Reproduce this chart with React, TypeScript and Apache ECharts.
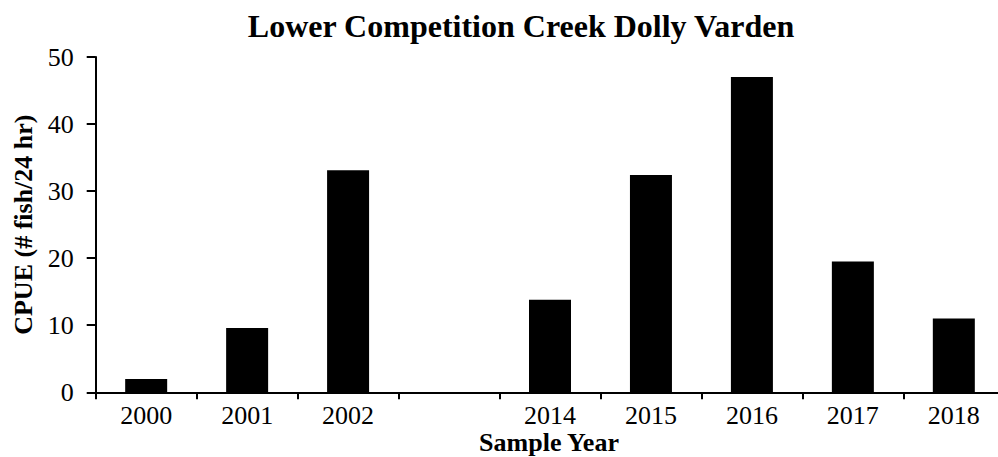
import React, { useEffect, useRef } from "react";
import * as echarts from "echarts";

const categories = ["2000", "2001", "2002", "", "2014", "2015", "2016", "2017", "2018"];
const cpue = [2.0, 9.6, 33.1, null, 13.8, 32.4, 47.0, 19.5, 11.0];
const yTicks = { min: 0, max: 50, interval: 10 };

const FONT = "'Liberation Serif', 'Times New Roman', serif";

export default function App() {
  const ref = useRef<HTMLDivElement>(null);
  useEffect(() => {
    if (!ref.current) return;
    const chart = echarts.init(ref.current, null, { renderer: "svg" });
    chart.setOption({
      animation: false,
      backgroundColor: "#fff",
      title: {
        text: "Lower Competition Creek Dolly Varden",
        left: 516,
        top: 5,
        textAlign: "center",
        textStyle: { fontFamily: FONT, fontSize: 32, fontWeight: "bold", color: "#000" },
      },
      grid: {
        left: 95.7,
        right: -6.3,
        top: 57,
        bottom: 64.7,
        containLabel: false,
        outerBoundsMode: "none",
      },
      graphic: [
        {
          type: "text",
          x: 549,
          y: 442,
          style: {
            text: "Sample Year",
            fontFamily: FONT,
            fontSize: 26,
            fontWeight: "bold",
            fill: "#000",
            align: "center",
            verticalAlign: "middle",
          },
        },
      ],
      xAxis: {
        type: "category",
        data: categories,
        axisLine: { lineStyle: { color: "#000", width: 2 } },
        axisTick: { show: true, length: 7, lineStyle: { color: "#000", width: 2 } },
        axisLabel: { fontFamily: FONT, fontSize: 26, color: "#000", margin: 10, interval: 0 },
        splitLine: { show: false },
      },
      yAxis: {
        type: "value",
        min: yTicks.min,
        max: yTicks.max,
        interval: yTicks.interval,
        name: "CPUE (# fish/24 hr)",
        nameLocation: "middle",
        nameGap: 57,
        nameTextStyle: { fontFamily: FONT, fontSize: 26, fontWeight: "bold", color: "#000" },
        axisLine: { show: true, lineStyle: { color: "#000", width: 2 } },
        axisTick: { show: true, length: 9, lineStyle: { color: "#000", width: 2 } },
        axisLabel: { fontFamily: FONT, fontSize: 26, color: "#000", margin: 22 },
        splitLine: { show: false },
      },
      series: [
        {
          type: "bar",
          data: cpue,
          barWidth: 42,
          itemStyle: { color: "#000" },
        },
      ],
    });
    return () => chart.dispose();
  }, []);
  return (
    <div
      ref={ref}
      style={{ position: "absolute", left: 0, top: 0, width: 998, height: 457, background: "#fff" }}
    />
  );
}
